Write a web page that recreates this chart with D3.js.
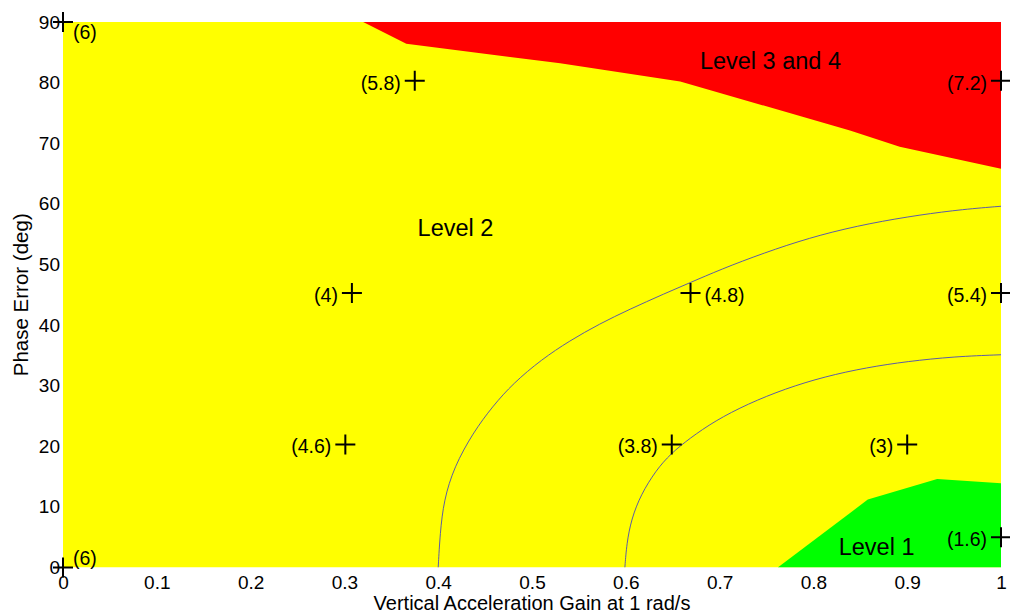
<!DOCTYPE html>
<html>
<head>
<meta charset="utf-8">
<script src="https://cdn.jsdelivr.net/npm/d3@7"></script>
<style>
  body { margin: 0; background: #fff; }
  svg { display: block; font-family: "Liberation Sans", Arial, sans-serif; }
</style>
</head>
<body>
<script>
// region boundaries, [gain, phase error]
const redEdge = [[0.320, 90], [0.366, 86.4], [0.498, 83.8], [0.530, 83.2], [0.658, 80.2],
  [0.839, 72.1], [0.892, 69.4], [1.0, 65.8]];
const greenEdge = [[0.762, 0], [0.858, 11.2], [0.932, 14.6], [1.0, 13.9]];

// the two thin contour curves
const outerContour = [[0.400, 0], [0.402, 5.6], [0.406, 11.1], [0.417, 16.6], [0.437, 22.2],
  [0.458, 26.6], [0.480, 30.4], [0.510, 34.3], [0.540, 37.4], [0.572, 40.2], [0.604, 42.6],
  [0.640, 45.1], [0.676, 47.5], [0.711, 49.8], [0.760, 52.6], [0.807, 54.9], [0.860, 56.8],
  [0.914, 58.2], [0.960, 59.1], [1.0, 59.6]];
const innerContour = [[0.599, 0], [0.601, 4], [0.606, 8], [0.616, 12], [0.632, 16],
  [0.648, 18.8], [0.668, 21.3], [0.695, 24.2], [0.730, 27.0], [0.770, 29.5], [0.812, 31.5],
  [0.857, 33.0], [0.900, 34.0], [0.950, 34.8], [1.0, 35.1]];

// rated test points
const ptX = [0, 0, 0.375, 1, 0.308, 0.669, 1, 0.301, 0.649, 0.900, 1];
const ptY = [90, 0, 80.3, 80.3, 45.3, 45.3, 45.3, 20.3, 20.3, 20.3, 5];
const ptLabel = ["(6)", "(6)", "(5.8)", "(7.2)", "(4)", "(4.8)", "(5.4)", "(4.6)", "(3.8)", "(3)", "(1.6)"];
const ptSide = ["below", "above", "left", "left", "left", "right", "left", "left", "left", "left", "left"];

const regionNames = ["Level 3 and 4", "Level 2", "Level 1"];
const regionX = [0.679, 0.378, 0.827];
const regionY = [83.6, 56, 3.5];

const xTicks = [0, 0.1, 0.2, 0.3, 0.4, 0.5, 0.6, 0.7, 0.8, 0.9, 1];
const yTicks = [0, 10, 20, 30, 40, 50, 60, 70, 80, 90];

const width = 1010, height = 613;
const margin = { top: 22, right: 9, bottom: 45.5, left: 63 };

const svg = d3.select("body").append("svg")
  .attr("width", width)
  .attr("height", height);

const x = d3.scaleLinear().domain([0, 1]).range([margin.left, width - margin.right]);
const y = d3.scaleLinear().domain([0, 90]).range([height - margin.bottom, margin.top]);

svg.append("clipPath").attr("id", "plot")
  .append("rect")
  .attr("x", x(0)).attr("y", y(90))
  .attr("width", x(1) - x(0)).attr("height", y(0) - y(90));

const plot = svg.append("g").attr("clip-path", "url(#plot)");

plot.append("rect")
  .attr("x", x(0)).attr("y", y(90))
  .attr("width", x(1) - x(0)).attr("height", y(0) - y(90))
  .attr("fill", "#ffff00");

const area = d3.line().x(d => x(d[0])).y(d => y(d[1]));

plot.append("path")
  .attr("d", area(redEdge.concat([[1, 90]])) + "Z")
  .attr("fill", "#ff0000");

plot.append("path")
  .attr("d", area(greenEdge.concat([[1, 0]])) + "Z")
  .attr("fill", "#00ff00");

const curve = d3.line().x(d => x(d[0])).y(d => y(d[1])).curve(d3.curveBasis);

plot.selectAll("path.contour")
  .data([outerContour, innerContour])
  .join("path")
  .attr("class", "contour")
  .attr("d", curve)
  .attr("fill", "none")
  .attr("stroke", "#4a4ab8")
  .attr("stroke-width", 0.9);

// axes, labels only
const xAxis = svg.append("g")
  .attr("transform", `translate(0,${y(0)})`)
  .call(d3.axisBottom(x).tickValues(xTicks).tickSize(0).tickPadding(8)
    .tickFormat(d => d3.format("")(d)));
const yAxis = svg.append("g")
  .attr("transform", `translate(${x(0)},0)`)
  .call(d3.axisLeft(y).tickValues(yTicks).tickSize(0).tickPadding(3));

[xAxis, yAxis].forEach(g => {
  g.select(".domain").remove();
  g.selectAll("text")
    .attr("fill", "#000")
    .style("font-family", '"Liberation Sans", Arial, sans-serif')
    .style("font-size", "19px");
});

svg.append("text")
  .attr("x", (x(0) + x(1)) / 2)
  .attr("y", 610)
  .attr("text-anchor", "middle")
  .style("font-size", "20px")
  .text("Vertical Acceleration Gain at 1 rad/s");

svg.append("text")
  .attr("transform", `translate(28,${(y(0) + y(90)) / 2}) rotate(-90)`)
  .attr("text-anchor", "middle")
  .style("font-size", "20.5px")
  .text("Phase Error (deg)");

// region names
svg.append("g")
  .selectAll("text")
  .data(regionNames)
  .join("text")
  .attr("x", (d, i) => x(regionX[i]))
  .attr("y", (d, i) => y(regionY[i]))
  .attr("dy", "0.35em")
  .style("font-size", "23.5px")
  .text(d => d);

// test points: crosshair + rating
const pts = svg.append("g")
  .selectAll("g")
  .data(ptLabel)
  .join("g")
  .attr("transform", (d, i) => `translate(${x(ptX[i])},${y(ptY[i])})`);

pts.append("path")
  .attr("d", "M-10,0H10M0,-10V10")
  .attr("stroke", "#000")
  .attr("stroke-width", 2);

pts.append("text")
  .attr("x", (d, i) => ptSide[i] === "left" ? -14 : ptSide[i] === "right" ? 14 : 10)
  .attr("y", (d, i) => ptSide[i] === "below" ? 10 : ptSide[i] === "above" ? -9 : 2)
  .attr("dy", "0.35em")
  .attr("text-anchor", (d, i) => ptSide[i] === "left" ? "end" : "start")
  .style("font-size", "19.5px")
  .text(d => d);
</script>
</body>
</html>
